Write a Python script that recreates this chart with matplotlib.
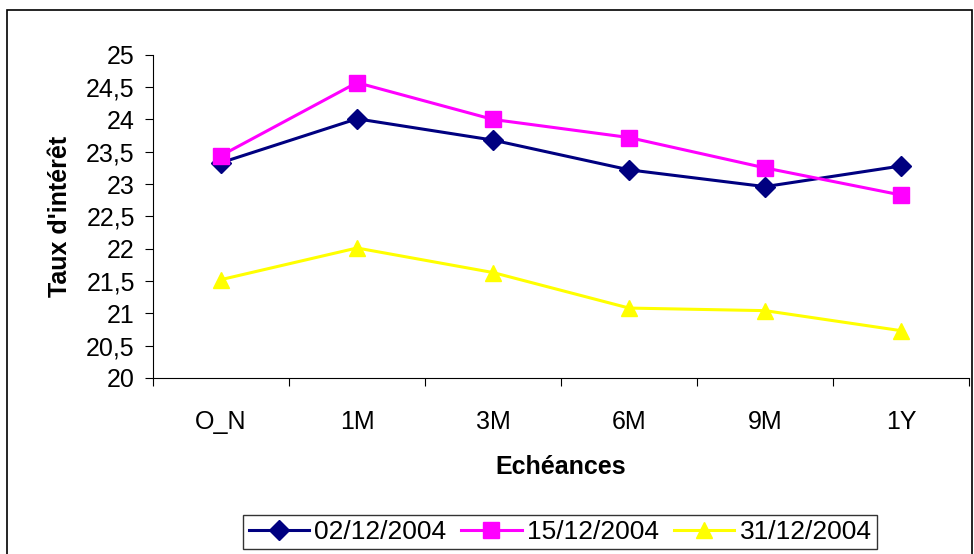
import matplotlib.pyplot as plt
from matplotlib.patches import Rectangle

plt.rcParams['font.family'] = ['Liberation Sans', 'DejaVu Sans']

# Données
echeances = ['O_N', '1M', '3M', '6M', '9M', '1Y']
taux_0212 = [23.33, 24.01, 23.68, 23.22, 22.96, 23.28]
taux_1512 = [23.44, 24.57, 24.00, 23.72, 23.25, 22.83]
taux_3112 = [21.52, 22.01, 21.63, 21.08, 21.04, 20.73]

fig = plt.figure(figsize=(9.74, 5.54), dpi=100)
ax = fig.add_axes([0.157, 0.318, 0.838, 0.583])

x = range(len(echeances))
ax.plot(x, taux_0212, color='#000080', marker='D', markersize=10, lw=2.2, label='02/12/2004')
ax.plot(x, taux_1512, color='#FF00FF', marker='s', markersize=11, lw=2.2, label='15/12/2004')
ax.plot(x, taux_3112, color='#FFFF00', marker='^', markersize=12, lw=2.2, label='31/12/2004')

ax.set_xlim(-0.5, 5.5)
ax.set_ylim(20, 25)
ax.set_yticks([20 + 0.5 * i for i in range(11)])
ax.set_yticklabels([f'{20 + 0.5 * i:g}'.replace('.', ',') for i in range(11)], fontsize=18)

# ticks entre les catégories
ax.set_xticks([i + 0.5 for i in range(-1, 6)])
ax.set_xticklabels([])
ax.set_xticks(list(x), minor=True)
ax.set_xticklabels(echeances, minor=True, fontsize=18)
ax.tick_params(axis='x', which='minor', length=0, pad=23)
ax.tick_params(axis='x', which='major', length=6, direction='out')
ax.tick_params(axis='y', length=6, direction='out', pad=7)

for s in ['top', 'right']:
    ax.spines[s].set_visible(False)

ax.set_xlabel('Echéances', fontsize=18, fontweight='bold', labelpad=15)
ax.set_ylabel("Taux d'intérêt", fontsize=18, fontweight='bold', labelpad=10)

leg = fig.legend(loc='center', bbox_to_anchor=(0.575, 0.04), ncol=3, fontsize=19,
                 frameon=True, fancybox=False, edgecolor='black', handlelength=2.3,
                 columnspacing=0.55, handletextpad=0.2, borderpad=0.2, borderaxespad=0)
leg.get_frame().set_linewidth(1)

fig.patches.append(Rectangle((0.0072, -0.01), 0.991, 0.992, transform=fig.transFigure,
                             fill=False, edgecolor='black', lw=1.2))

fig.savefig('out.png', dpi=100)
